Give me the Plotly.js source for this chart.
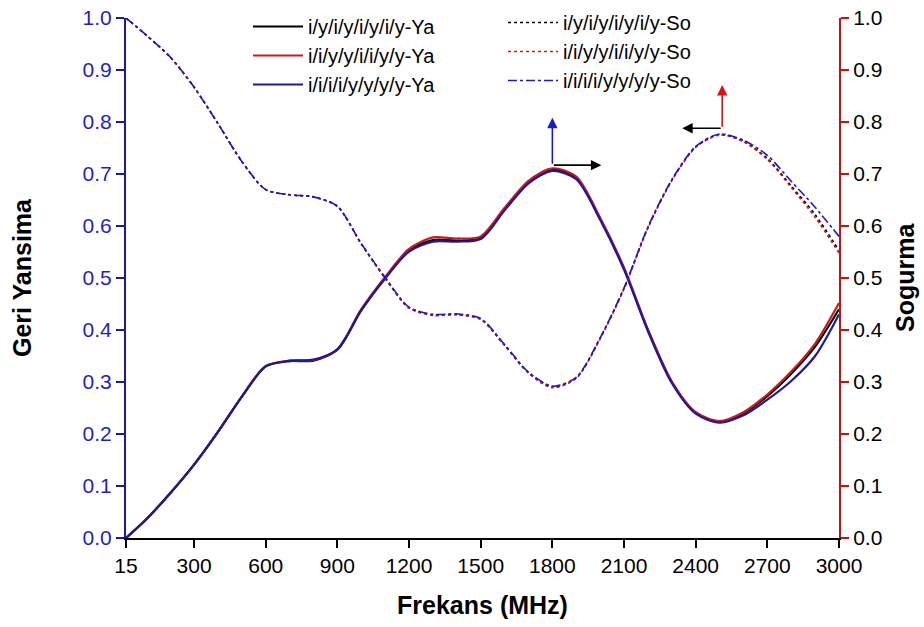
<!DOCTYPE html>
<html>
<head>
<meta charset="utf-8">
<script src="https://cdn.plot.ly/plotly-3.0.1.min.js"></script>
<style>
html,body{margin:0;padding:0;background:#fff;}
#chart{width:924px;height:627px;}
</style>
</head>
<body>
<div id="chart"></div>
<script>
// Frequency (MHz)
var freq = [15,100,200,300,400,500,600,700,800,900,1000,1100,1200,1300,1400,1500,1600,1700,1800,1900,2000,2100,2200,2300,2400,2500,2600,2700,2800,2900,3000];

// Geri Yansima (reflection) – left axis
var yaBlack = [0.0,0.036,0.086,0.141,0.204,0.272,0.330,0.340,0.341,0.362,0.438,0.500,0.553,0.573,0.572,0.577,0.632,0.684,0.708,0.692,0.614,0.518,0.400,0.300,0.241,0.224,0.240,0.273,0.316,0.368,0.440];
var yaRed   = [0.0,0.036,0.086,0.141,0.204,0.272,0.331,0.341,0.342,0.363,0.440,0.502,0.556,0.578,0.576,0.580,0.635,0.687,0.711,0.695,0.616,0.520,0.401,0.301,0.242,0.225,0.242,0.276,0.320,0.374,0.452];
var yaBlue  = [0.0,0.036,0.086,0.141,0.204,0.272,0.330,0.341,0.343,0.363,0.438,0.499,0.551,0.570,0.570,0.575,0.630,0.682,0.706,0.690,0.612,0.516,0.398,0.298,0.239,0.222,0.236,0.266,0.302,0.350,0.430];

// Sogurma (absorption) – right axis
var soBlack = [1.0,0.967,0.925,0.867,0.797,0.724,0.670,0.660,0.656,0.638,0.566,0.500,0.443,0.429,0.430,0.421,0.371,0.318,0.291,0.308,0.384,0.480,0.597,0.688,0.752,0.776,0.763,0.730,0.677,0.622,0.553];
var soRed   = [1.0,0.967,0.925,0.867,0.797,0.724,0.670,0.660,0.656,0.637,0.565,0.499,0.442,0.428,0.429,0.420,0.370,0.317,0.289,0.307,0.383,0.479,0.596,0.687,0.751,0.775,0.762,0.728,0.674,0.617,0.548];
var soBlue  = [1.0,0.967,0.925,0.867,0.797,0.724,0.670,0.660,0.656,0.638,0.566,0.501,0.444,0.430,0.431,0.422,0.372,0.319,0.292,0.309,0.385,0.481,0.598,0.689,0.753,0.777,0.765,0.736,0.686,0.636,0.580];

var yaNames = ["i/y/i/y/i/y/i/y-Ya","i/i/y/y/i/i/y/y-Ya","i/i/i/i/y/y/y/y-Ya"];
var soNames = ["i/y/i/y/i/y/i/y-So","i/i/y/y/i/i/y/y-So","i/i/i/i/y/y/y/y-So"];

var xTicks = [15,300,600,900,1200,1500,1800,2100,2400,2700,3000];
var yTicks = [0,0.1,0.2,0.3,0.4,0.5,0.6,0.7,0.8,0.9,1.0];

var leftTitle = 'Geri Yansima';
var rightTitle = 'Sogurma';
var bottomTitle = 'Frekans (MHz)';

// Arrow annotations: [tailX, tailY, headX, headY, colour, axis]
var arrows = [
  [1800,0.717,1800,0.808,'#1a1acc','y'],
  [1800,0.717,2005,0.717,'#000000','y'],
  [2511,0.788,2511,0.871,'#e01010','y2'],
  [2511,0.788,2344,0.788,'#000000','y2']
];

var cBlack='#000000', cRed='#d01818', cBlue='#1a1a9a';

var traces = [
  {x:freq,y:yaBlack,name:yaNames[0],mode:'lines',line:{color:cBlack,width:2.2,shape:'spline',smoothing:0.8},legend:'legend'},
  {x:freq,y:yaRed,name:yaNames[1],mode:'lines',line:{color:cRed,width:2.2,shape:'spline',smoothing:0.8},legend:'legend'},
  {x:freq,y:yaBlue,name:yaNames[2],mode:'lines',line:{color:cBlue,width:2.2,shape:'spline',smoothing:0.8},legend:'legend'},
  {x:freq,y:soBlack,name:soNames[0],mode:'lines',yaxis:'y2',line:{color:cBlack,width:1.6,dash:'dot',shape:'spline',smoothing:0.8},legend:'legend2'},
  {x:freq,y:soRed,name:soNames[1],mode:'lines',yaxis:'y2',line:{color:cRed,width:1.6,dash:'dot',shape:'spline',smoothing:0.8},legend:'legend2'},
  {x:freq,y:soBlue,name:soNames[2],mode:'lines',yaxis:'y2',line:{color:'#1a1acc',width:1.6,dash:'dashdot',shape:'spline',smoothing:0.8},legend:'legend2'}
];

var fontFam = 'Arial, "Liberation Sans", sans-serif';

var annotations = arrows.map(function(a){
  return {x:a[2],y:a[3],ax:a[0],ay:a[1],xref:'x',yref:a[5],axref:'x',ayref:a[5],
    text:'',showarrow:true,arrowhead:2,arrowsize:1.3,arrowwidth:1.6,arrowcolor:a[4]};
});
annotations.push({xref:'paper',yref:'paper',x:(22-126)/713,y:0.5,xanchor:'center',yanchor:'middle',
  textangle:-90,showarrow:false,text:'<b>'+leftTitle+'</b>',font:{size:25,color:'#000',family:fontFam}});
annotations.push({xref:'paper',yref:'paper',x:(905-126)/713,y:0.5,xanchor:'center',yanchor:'middle',
  textangle:-90,showarrow:false,text:'<b>'+rightTitle+'</b>',font:{size:25,color:'#000',family:fontFam}});

var layout = {
  width:924,height:627,
  paper_bgcolor:'#ffffff',plot_bgcolor:'#ffffff',
  margin:{l:126,r:85,t:18,b:89,autoexpand:false},
  font:{family:fontFam,color:'#000',size:20},
  showlegend:true,
  xaxis:{
    range:[15,3000],tickvals:xTicks,ticktext:xTicks.map(String),tickangle:0,automargin:false,
    showline:true,linecolor:'#000',linewidth:2,
    ticks:'outside',ticklen:8,tickwidth:2,tickcolor:'#000',
    showgrid:false,zeroline:false,
    tickfont:{size:21,color:'#000',family:fontFam},
    title:{text:'<b>'+bottomTitle+'</b>',font:{size:25,color:'#000',family:fontFam},standoff:20}
  },
  yaxis:{
    range:[0,1],tickvals:yTicks,tickformat:'.1f',automargin:false,
    showline:true,linecolor:'#1a1aa8',linewidth:2,
    ticks:'outside',ticklen:8,tickwidth:2,tickcolor:'#1a1aa8',
    showgrid:false,zeroline:false,
    tickfont:{size:21,color:'#1f1fc8',family:fontFam}
  },
  yaxis2:{
    range:[0,1],tickvals:yTicks,tickformat:'.1f',overlaying:'y',side:'right',automargin:false,
    showline:true,linecolor:'#cc1010',linewidth:2,
    ticks:'outside',ticklen:8,tickwidth:2,tickcolor:'#cc1010',
    showgrid:false,zeroline:false,
    tickfont:{size:21,color:'#000',family:fontFam}
  },
  legend:{
    xref:'container',yref:'container',x:248/924,y:1-7/627,xanchor:'left',yanchor:'top',
    bgcolor:'rgba(0,0,0,0)',borderwidth:0,font:{size:20,family:fontFam,color:'#000'},
    itemwidth:50,tracegroupgap:0,traceorder:'normal'
  },
  legend2:{
    xref:'container',yref:'container',x:503/924,y:1-3/627,xanchor:'left',yanchor:'top',
    bgcolor:'rgba(0,0,0,0)',borderwidth:0,font:{size:20,family:fontFam,color:'#000'},
    itemwidth:50,tracegroupgap:0,traceorder:'normal'
  },
  annotations:annotations
};

Plotly.newPlot('chart',traces,layout,{staticPlot:true,displayModeBar:false});
</script>
</body>
</html>
